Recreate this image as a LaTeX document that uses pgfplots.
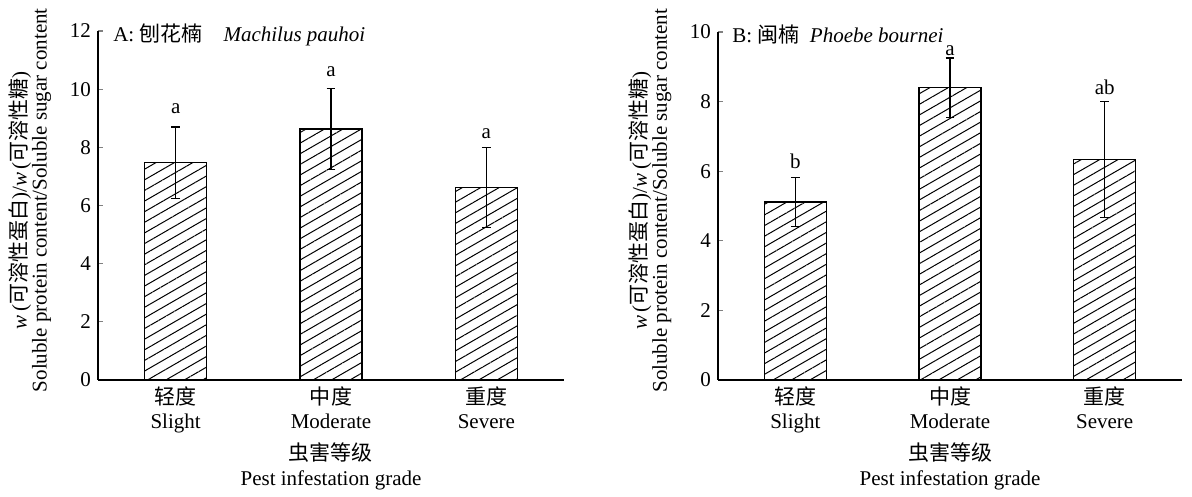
\documentclass[border=0pt]{standalone}
\usepackage{pgfplots}
\pgfplotsset{compat=1.18}
\usepackage{fontspec}
\setmainfont{Liberation Serif}
\newfontfamily\cjk{Noto Sans CJK SC}
\usetikzlibrary{patterns.meta}

\pgfplotsset{
  mybars/.style={
    scale only axis,
    width=233pt, height=174.5pt,
    xmin=-0.5, xmax=2.5, ymin=0,
    axis x line*=bottom, axis y line*=left,
    axis line style={line width=0.8pt},
    xtick={0,1,2},
    xtick style={draw=none},
    xticklabels={{{\cjk 轻度}\\Slight},{{\cjk 中度}\\Moderate},{{\cjk 重度}\\Severe}},
    xticklabel style={align=center, font=\fontsize{10.5}{12}\selectfont},
    yticklabel style={font=\fontsize{10.5}{12}\selectfont},
    /pgf/number format/assume math mode=true,
    tick align=inside,
    major tick length=2.5pt,
    ytick style={line width=0.6pt},
    xlabel={{\cjk 虫害等级}\\Pest infestation grade},
    xlabel style={align=center, font=\fontsize{10.5}{12.5}\selectfont, yshift=2pt},
    ylabel={\textit{w}\,({\cjk 可溶性蛋白})/\textit{w}\,({\cjk 可溶性糖})\\[-2pt]Soluble protein content/Soluble sugar content},
    ylabel style={at={(axis description cs:-0.146,0.515)}, anchor=center, align=center, font=\fontsize{10.5}{12}\selectfont},
    clip=false,
  },
  mybar/.style={
    ybar, bar width=31pt, draw=black, line width=0.7pt,
    pattern={Lines[angle=30,distance=4.6pt,line width=0.5pt]},
  },
  myerr/.style={
    draw=none, mark=none, forget plot,
    error bars/.cd, y dir=both, y explicit,
    error bar style={black, line width=0.6pt, solid},
    error mark options={black, mark size=2.2pt, line width=0.6pt, solid, rotate=90},
  },
  letters/.style={
    draw=none, mark=none, nodes near coords,
    point meta=explicit symbolic,
    every node near coord/.style={anchor=base, font=\fontsize{10.5}{12}\selectfont, black},
  },
}

\pgfplotstableread{
x y err
0 7.47 1.23
1 8.63 1.40
2 6.62 1.37
}\dataA
\pgfplotstableread{
x y lab
0 9.18 a
1 10.42 a
2 8.32 a
}\labA
\pgfplotstableread{
x y err
0 5.11 0.70
1 8.40 0.85
2 6.33 1.67
}\dataB
\pgfplotstableread{
x y lab
0 6.09 b
1 9.33 a
2 8.19 ab
}\labB

\begin{document}
\begin{tikzpicture}
\path[use as bounding box] (-49pt,-58.5pt) rectangle (547pt,190pt);
\begin{axis}[mybars, ymax=12, ytick={0,2,...,12}]
\addplot[mybar] table[x=x, y=y] {\dataA};
\addplot[myerr] table[x=x, y=y, y error=err] {\dataA};
\addplot[letters] table[x=x, y=y, meta=lab] {\labA};
\node[anchor=base west, inner sep=0pt, font=\fontsize{10.5}{12}\selectfont] at ([yshift=-5.5pt]axis description cs:0.032,1) {A: {\cjk 刨花楠}\quad\textit{Machilus pauhoi}};
\end{axis}
\begin{axis}[mybars, at={(310pt,0)}, width=232pt, height=174pt, ymax=10, ytick={0,2,...,10}]
\addplot[mybar] table[x=x, y=y] {\dataB};
\addplot[myerr] table[x=x, y=y, y error=err] {\dataB};
\addplot[letters] table[x=x, y=y, meta=lab] {\labB};
\node[anchor=base west, inner sep=0pt, font=\fontsize{10.5}{12}\selectfont] at ([yshift=-5.5pt]axis description cs:0.03,1) {B: {\cjk 闽楠}\enspace\textit{Phoebe bournei}};
\end{axis}
\end{tikzpicture}
\end{document}
